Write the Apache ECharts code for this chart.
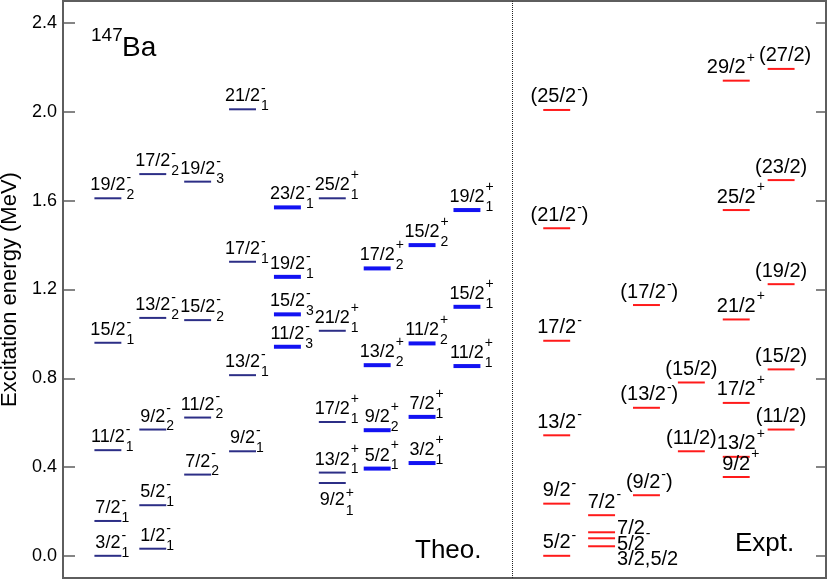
<!DOCTYPE html>
<html>
<head>
<meta charset="utf-8">
<script src="https://cdn.jsdelivr.net/npm/echarts@6/dist/echarts.min.js"></script>
<style>
html, body { margin: 0; padding: 0; background: #fff; }
#chart { width: 830px; height: 580px; }
</style>
</head>
<body>
<div id="chart"></div>
<script>
// calculated levels (column, energy in MeV, spin, parity, index)
var theoColumn = [0, 0, 0, 0, 0, 1, 1, 1, 1, 1, 2, 2, 2, 2, 3, 3, 3, 3, 4, 4, 4, 4,
                  5, 5, 5, 5, 5, 6, 6, 6, 6, 7, 7, 7, 7, 8, 8, 8];
var theoEnergy = [1.611, 0.960, 0.476, 0.157, 0.000,
                  1.720, 1.072, 0.569, 0.228, 0.032,
                  1.686, 1.062, 0.623, 0.366,
                  2.012, 1.325, 0.814, 0.471,
                  1.570, 1.257, 1.088, 0.942,
                  1.611, 1.014, 0.603, 0.375, 0.328,
                  1.295, 0.859, 0.566, 0.393,
                  1.400, 0.957, 0.626, 0.418,
                  1.558, 1.122, 0.855];
var theoSpin = ['19/2', '15/2', '11/2', '7/2', '3/2',
                '17/2', '13/2', '9/2', '5/2', '1/2',
                '19/2', '15/2', '11/2', '7/2',
                '21/2', '17/2', '13/2', '9/2',
                '23/2', '19/2', '15/2', '11/2',
                '25/2', '21/2', '17/2', '13/2', '9/2',
                '17/2', '13/2', '9/2', '5/2',
                '15/2', '11/2', '7/2', '3/2',
                '19/2', '15/2', '11/2'];
var theoParity = ['-', '-', '-', '-', '-', '-', '-', '-', '-', '-', '-', '-', '-', '-',
                  '-', '-', '-', '-', '-', '-', '-', '-',
                  '+', '+', '+', '+', '+', '+', '+', '+', '+', '+', '+', '+', '+', '+', '+', '+'];
var theoIndex = ['2', '1', '1', '1', '1', '2', '2', '2', '1', '1', '3', '2', '2', '2',
                 '1', '1', '1', '1', '1', '1', '3', '3',
                 '1', '1', '1', '1', '1', '2', '2', '2', '1', '2', '2', '1', '1', '1', '1', '1'];

// measured levels
var exptColumn = [10, 10, 10, 10, 10, 10, 11, 11, 11, 11, 12, 12, 12, 13, 13,
                  14, 14, 14, 14, 14, 14, 15, 15, 15, 15, 15];
var exptEnergy = [2.009, 1.476, 0.969, 0.543, 0.235, 0.000,
                  0.183, 0.106, 0.079, 0.043,
                  1.130, 0.667, 0.273,
                  0.781, 0.471,
                  2.141, 1.558, 1.065, 0.689, 0.446, 0.355,
                  2.194, 1.693, 1.224, 0.840, 0.569];
var exptSpin = ['25/2', '21/2', '17/2', '13/2', '9/2', '5/2',
                '7/2', '7/2', '5/2', '3/2,5/2',
                '17/2', '13/2', '9/2',
                '15/2', '11/2',
                '29/2', '25/2', '21/2', '17/2', '13/2', '9/2',
                '27/2', '23/2', '19/2', '15/2', '11/2'];
var exptParity = ['-', '-', '-', '-', '-', '-', '-', '-', '', '', '-', '-', '-', '', '',
                  '+', '+', '+', '+', '+', '+', '', '', '', '', ''];
var exptTentative = [1, 1, 0, 0, 0, 0, 0, 0, 0, 0, 1, 1, 1, 1, 1, 0, 0, 0, 0, 0, 0, 1, 1, 1, 1, 1];

var yTicks = [0, 0.4, 0.8, 1.2, 1.6, 2.0, 2.4];

// label placement exceptions
var theoBelow = [26];
var exptRight = { 7: -4, 8: 6, 9: 13 };
var exptShiftX = { 15: -10, 21: 4 };
var boldColumns = [4, 6, 7, 8];

var FONT = 'Liberation Sans';
var THEO_SIZE = 18, EXPT_SIZE = 20, SMALL = 14;

var measureCtx = document.createElement('canvas').getContext('2d');
function textWidth(s, size) {
  measureCtx.font = size + 'px "' + FONT + '"';
  return measureCtx.measureText(s).width;
}

function txt(s, x, y, size, align) {
  return {
    type: 'text', x: x, y: y, silent: true,
    style: { text: s, fontSize: size, fontFamily: FONT, fill: '#000',
             align: align, verticalAlign: 'middle' }
  };
}

function labelEls(cx, lineY, rightX, size, spin, parity, sub, tentative, place, dy) {
  var els = [];
  var w = textWidth(spin, size);
  var left, mainY, supY, subY;
  if (place === 'right') {
    left = rightX + 2;
    mainY = lineY + dy;
    supY = mainY + 6;
    subY = mainY + 10;
  } else if (place === 'below') {
    left = cx - w / 2;
    mainY = lineY + 17;
    supY = lineY + 10;
    subY = lineY + 28;
  } else {
    left = cx - w / 2;
    mainY = lineY - 13;
    supY = lineY - (parity === '+' ? 23 : 20);
    subY = lineY - 3;
  }
  var right = left + w;
  els.push(txt(spin, left, mainY, size, 'left'));
  var extra = 0;
  if (parity) {
    els.push(txt(parity, right + 1, supY, SMALL, 'left'));
    extra = textWidth(parity, SMALL) + 1;
  }
  if (sub) {
    els.push(txt(sub, right + 1, subY, SMALL, 'left'));
  }
  if (tentative) {
    els.push(txt('(', left, mainY, size, 'right'));
    els.push(txt(')', right + extra, mainY, size, 'left'));
  }
  return els;
}

var theoData = theoEnergy.map(function (e, i) { return [theoColumn[i], e, i]; });
var exptData = exptEnergy.map(function (e, i) { return [exptColumn[i], e, i]; });

function renderTheo(params, api) {
  var i = api.value(2);
  var p = api.coord([api.value(0), api.value(1)]);
  var half = api.size([0.6, 0])[0] / 2;
  var bold = boldColumns.indexOf(theoColumn[i]) >= 0;
  var children = [{
    type: 'line', silent: true,
    shape: { x1: p[0] - half, y1: p[1], x2: p[0] + half, y2: p[1] },
    style: { stroke: bold ? '#1212f2' : '#2c2e86', lineWidth: bold ? 4 : 2 }
  }];
  var place = theoBelow.indexOf(i) >= 0 ? 'below' : 'above';
  children = children.concat(labelEls(p[0], p[1], p[0] + half, THEO_SIZE, theoSpin[i],
    theoParity[i], theoIndex[i], false, place, 0));
  return { type: 'group', children: children };
}

function renderExpt(params, api) {
  var i = api.value(2);
  var p = api.coord([api.value(0), api.value(1)]);
  var half = api.size([0.6, 0])[0] / 2;
  var children = [{
    type: 'line', silent: true,
    shape: { x1: p[0] - half, y1: p[1], x2: p[0] + half, y2: p[1] },
    style: { stroke: '#ff1a1a', lineWidth: 2 }
  }];
  var right = exptRight.hasOwnProperty(i);
  var dx = exptShiftX[i] || 0;
  children = children.concat(labelEls(p[0] + dx, p[1], p[0] + half, EXPT_SIZE, exptSpin[i],
    exptParity[i], '', exptTentative[i], right ? 'right' : 'above', right ? exptRight[i] : 0));
  return { type: 'group', children: children };
}

var chart = echarts.init(document.getElementById('chart'), null, { renderer: 'canvas' });

function plainText(s, x, y, size) {
  return { type: 'text', x: x, y: y, silent: true,
           style: { text: s, fontSize: size, fontFamily: FONT, fill: '#000',
                    align: 'left', verticalAlign: 'middle' } };
}

var option = {
  animation: false,
  backgroundColor: '#fff',
  grid: { left: 63, right: 4, top: 1, bottom: 2, show: true, borderColor: '#5e5e5e', borderWidth: 2,
          outerBoundsMode: 'none', containLabel: false },
  xAxis: {
    type: 'value', min: -1, max: 16,
    axisLine: { show: false, onZero: false }, axisTick: { show: false },
    axisLabel: { show: false }, splitLine: { show: false }
  },
  yAxis: [{
    type: 'value', min: -0.1, max: 2.5, position: 'left',
    name: 'Excitation energy (MeV)', nameLocation: 'middle', nameGap: 39,
    nameTextStyle: { fontSize: 22, fontFamily: FONT, color: '#000' },
    axisLine: { show: false, onZero: false },
    axisTick: { show: true, inside: true, length: 12, customValues: yTicks,
                lineStyle: { color: '#5e5e5e', width: 1.5 } },
    axisLabel: { customValues: yTicks, fontSize: 18, fontFamily: FONT, color: '#000', margin: 6,
                 formatter: function (v) { return v.toFixed(1); } },
    splitLine: { show: false }
  }, {
    type: 'value', min: -0.1, max: 2.5, position: 'right',
    axisLine: { show: false, onZero: false },
    axisTick: { show: true, inside: true, length: 10, customValues: yTicks,
                lineStyle: { color: '#5e5e5e', width: 1.5 } },
    axisLabel: { show: false },
    splitLine: { show: false }
  }],
  graphic: [
    plainText('147', 91, 36, 19),
    plainText('Ba', 122, 48, 28),
    plainText('Theo.', 415, 551, 26),
    plainText('Expt.', 735, 544, 26)
  ],
  series: [{
    type: 'custom', name: 'Theo', renderItem: renderTheo, data: theoData, clip: false,
    markLine: {
      silent: true, symbol: 'none', label: { show: false },
      lineStyle: { type: 'dotted', color: '#222', width: 1 },
      data: [{ xAxis: 9 }]
    }
  }, {
    type: 'custom', name: 'Expt', renderItem: renderExpt, data: exptData, clip: false
  }]
};

chart.setOption(option);
</script>
</body>
</html>
